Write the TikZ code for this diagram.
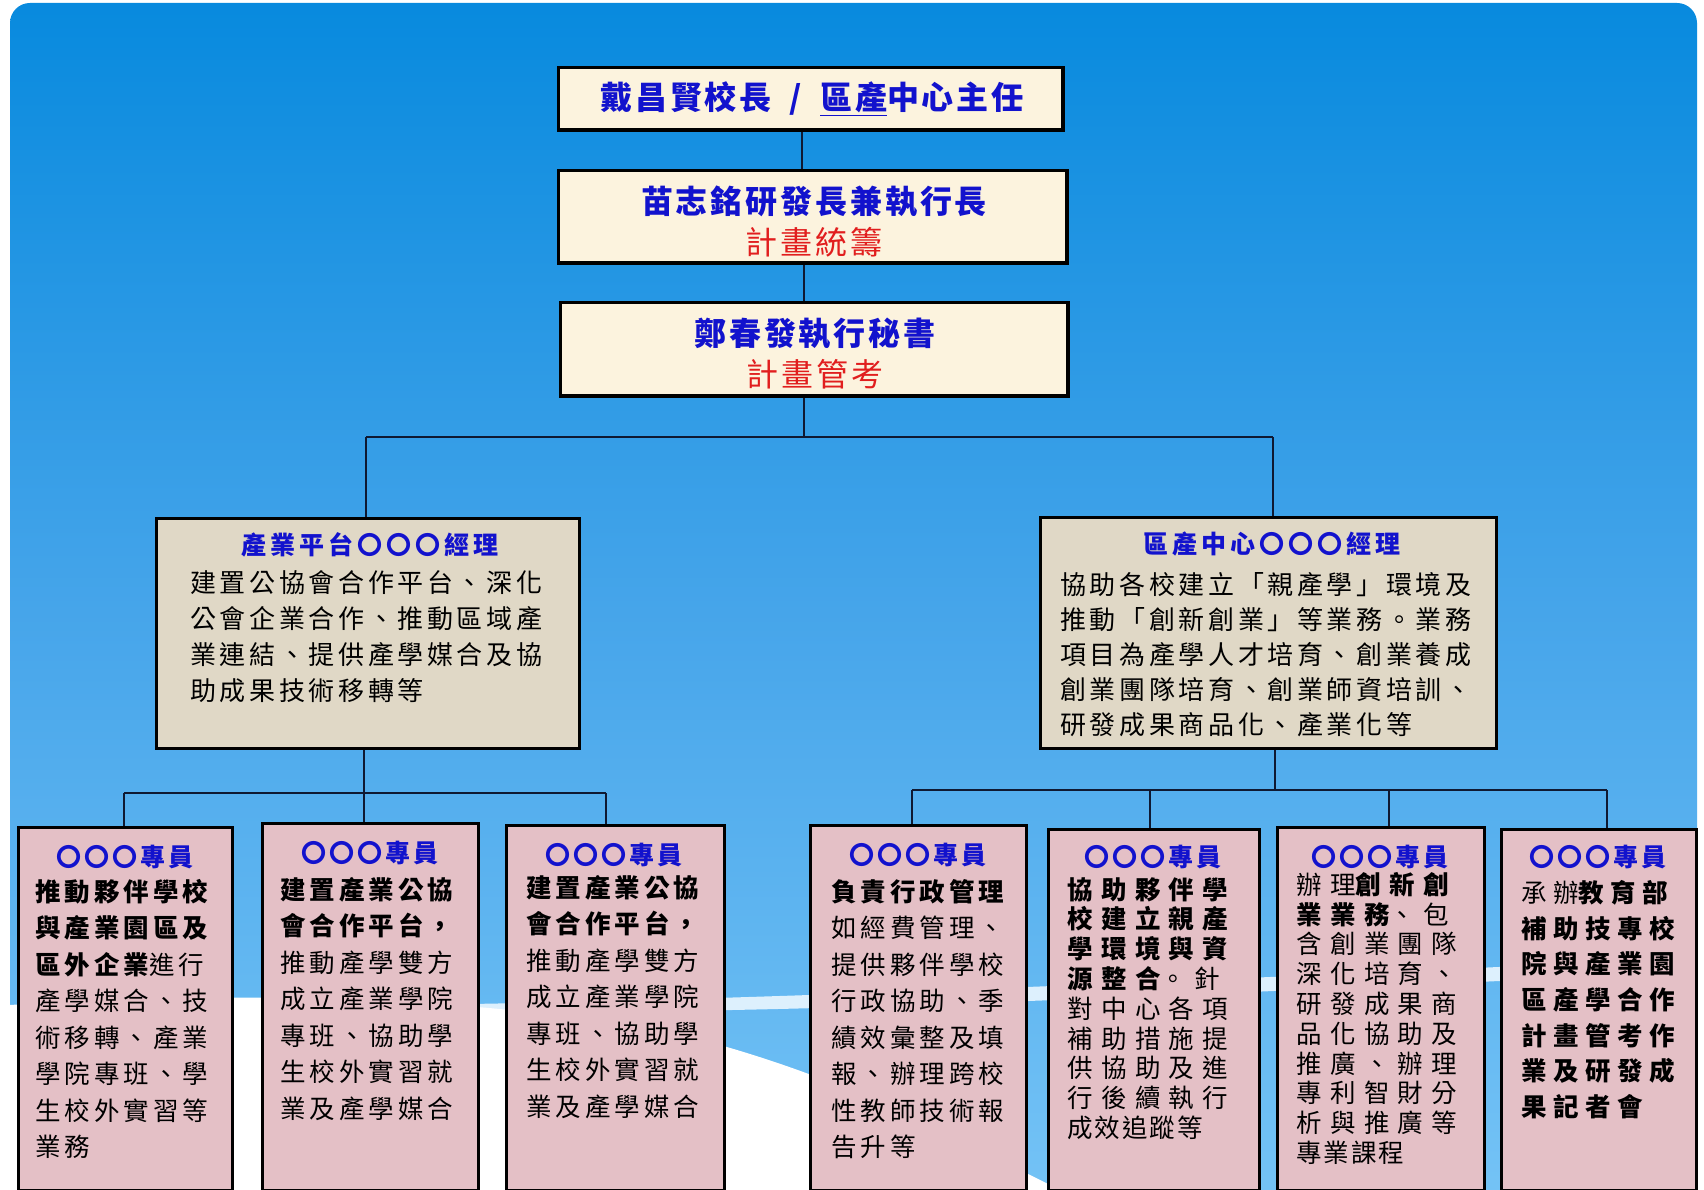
\documentclass[tikz,border=0pt]{standalone}
\usepackage{fontspec}
\setmainfont{Noto Sans CJK TC}
\usetikzlibrary{calc}
\definecolor{bgtop}{RGB}{8,138,222}
\definecolor{bgmid}{RGB}{70,165,234}
\definecolor{bgbot}{RGB}{118,196,246}
\definecolor{cream}{RGB}{252,243,222}
\definecolor{mgrfill}{RGB}{224,216,198}
\definecolor{pinkfill}{RGB}{228,192,198}
\definecolor{tblue}{RGB}{18,18,205}
\definecolor{tred}{RGB}{225,30,30}
\definecolor{linec}{RGB}{15,25,50}
\newcommand\myfTop{\fontsize{32}{41}\selectfont\bfseries\addfontfeature{LetterSpace=9}}
\newcommand\myfMgrT{\fontsize{25}{30}\selectfont\bfseries\addfontfeature{LetterSpace=16}}
\newcommand\myfMgrB{\fontsize{26}{36}\selectfont\addfontfeature{LetterSpace=14}}
\newcommand\myfMgrBR{\fontsize{26}{35}\selectfont\addfontfeature{LetterSpace=14}}
\newcommand\myfStaffT{\fontsize{25}{30}\selectfont\bfseries\addfontfeature{LetterSpace=12}}
\newcommand\myfBody{\fontsize{25.5}{36.5}\selectfont\addfontfeature{LetterSpace=15.5}}
\newcommand\myfBodyW{\fontsize{25.5}{29.8}\selectfont\addfontfeature{LetterSpace=33}}
\newcommand\myfBodyS{\fontsize{25.5}{35.7}\selectfont\addfontfeature{LetterSpace=25.5}}
\newcommand\myfTight{\addfontfeature{LetterSpace=8}}
\begin{document}
\begin{tikzpicture}[x=1pt,y=-1pt,
  topbox/.style={draw=black, line width=2.4pt, fill=cream, inner sep=0pt},
  mgrbox/.style={draw=black, line width=1.8pt, fill=mgrfill, inner sep=0pt},
  staffbox/.style={draw=black, line width=1.8pt, fill=pinkfill, inner sep=0pt},
  conn/.style={draw=linec, line width=2pt},
  ttop/.style={inner sep=0pt, align=center, text=tblue, font=\myfTop},
  tmgr/.style={inner sep=0pt, text=tblue, font=\myfMgrT},
  bmgr/.style={inner sep=0pt, align=left, text=black, font=\myfMgrB, anchor=north west},
  tstaff/.style={inner sep=0pt, text=tblue, font=\myfStaffT},
  bstaff/.style={inner sep=0pt, align=left, text=black, font=\myfBody, anchor=north west}]
\useasboundingbox (0,0) rectangle (1704,1190);
% background
\fill[white] (0,0) rectangle (1704,1190);
\shade[top color=bgtop, bottom color=bgbot, middle color=bgmid, rounded corners=20pt] (10,3) rectangle (1697,1220);
\fill[white!75!bgbot] (470,1004) .. controls (700,1000) and (1000,990) .. (1697,958) -- (1697,972) .. controls (1000,1004) and (700,1016) .. (470,1010) -- cycle;
\fill[white] (10,1005) .. controls (250,990) and (520,995) .. (720,1045) .. controls (860,1085) and (960,1140) .. (1060,1190) -- (10,1190) -- cycle;

% boxes (top)
\node[topbox, minimum width=503pt, minimum height=61pt, anchor=north west] (pres) at (558,67) {};
\node[topbox, minimum width=507pt, minimum height=91pt, anchor=north west] (ceo) at (558,170) {};
\node[topbox, minimum width=506pt, minimum height=92pt, anchor=north west] (sec) at (560,302) {};
\node[mgrbox, minimum width=422pt, minimum height=229pt, anchor=north west] (mgrL) at (156,518) {};
\node[mgrbox, minimum width=455pt, minimum height=230pt, anchor=north west] (mgrR) at (1040,517) {};
% staff boxes
\node[staffbox, minimum width=213pt, minimum height=362pt, anchor=north west] (b1) at (18,827) {};
\node[staffbox, minimum width=215pt, minimum height=366pt, anchor=north west] (b2) at (262,823) {};
\node[staffbox, minimum width=217pt, minimum height=364pt, anchor=north west] (b3) at (506,825) {};
\node[staffbox, minimum width=215pt, minimum height=364pt, anchor=north west] (b4) at (810,825) {};
\node[staffbox, minimum width=210pt, minimum height=360pt, anchor=north west] (b5) at (1048,829) {};
\node[staffbox, minimum width=206pt, minimum height=362pt, anchor=north west] (b6) at (1277,827) {};
\node[staffbox, minimum width=194pt, minimum height=360pt, anchor=north west] (b7) at (1501,829) {};

% connectors
\coordinate (v1) at ([xshift=-9pt]pres.south);
\coordinate (j0) at (804,437);
\coordinate (jL) at (366,437);
\coordinate (jR) at (1273,437);
\draw[conn] (v1) -- (v1 |- ceo.north);
\draw[conn] (ceo.south -| j0) -- (j0 |- sec.north);
\draw[conn] (sec.south -| j0) -- (j0);
\draw[conn] (jL) -- (jR);
\draw[conn] (jL) -- (jL |- mgrL.north);
\draw[conn] (jR) -- (jR |- mgrR.north);
\coordinate (lb) at (364,793);
\coordinate (l1) at (124,793);
\coordinate (l3) at (606,793);
\draw[conn] (mgrL.south -| lb) -- (lb);
\draw[conn] (l1) -- (l3);
\draw[conn] (l1) -- (l1 |- b1.north);
\draw[conn] (lb) -- (lb |- b2.north);
\draw[conn] (l3) -- (l3 |- b3.north);
\coordinate (rb) at (1275,790);
\coordinate (r1) at (912,790);
\coordinate (r2) at (1150,790);
\coordinate (r3) at (1389,790);
\coordinate (r4) at (1607,790);
\draw[conn] (mgrR.south -| rb) -- (rb);
\draw[conn] (r1) -- (r4);
\draw[conn] (r1) -- (r1 |- b4.north);
\draw[conn] (r2) -- (r2 |- b5.north);
\draw[conn] (r3) -- (r3 |- b6.north);
\draw[conn] (r4) -- (r4 |- b7.north);
% redraw box borders over connector ends
\foreach \n in {pres,ceo,sec}{\draw[line width=2.4pt] (\n.north west) rectangle (\n.south east);}
\foreach \n in {mgrL,mgrR,b1,b2,b3,b4,b5,b6,b7}{\draw[line width=1.8pt] (\n.north west) rectangle (\n.south east);}

% texts top
\node[ttop] (presT) at (812,99) {戴昌賢校長\hspace{18pt}/\hspace{18pt}\underline{區產}中心主任};
\node[ttop] (ceoT) at (814,222) {苗志銘研發長兼執行長\\{\mdseries\color{tred}計畫統籌}};
\node[ttop] (secT) at (815,354) {鄭春發執行秘書\\{\mdseries\color{tred}計畫管考}};
% managers
\node[tmgr] (mgrLT) at (370,545) {產業平台〇〇〇經理};
\node[bmgr] (mgrLB) at (190,570) {建置公協會合作平台、深化\\公會企業合作、推動區域產\\業連結、提供產學媒合及協\\助成果技術移轉等};
\node[tmgr] (mgrRT) at (1272,544) {區產中心〇〇〇經理};
\node[bmgr, font=\myfMgrBR] (mgrRB) at (1060,572) {協助各校建立「親產學」環境及\\推動「創新創業」等業務。業務\\項目為產學人才培育、創業養成\\創業團隊培育、創業師資培訓、\\研發成果商品化、產業化等};
% staff
\node[tstaff] (b1T) at (125,857) {〇〇〇專員};
\node[tstaff] (b2T) at (370,853) {〇〇〇專員};
\node[tstaff] (b3T) at (614,855) {〇〇〇專員};
\node[tstaff] (b4T) at (918,855) {〇〇〇專員};
\node[tstaff] (b5T) at (1153,857) {〇〇〇專員};
\node[tstaff] (b6T) at (1380,857) {〇〇〇專員};
\node[tstaff] (b7T) at (1598,857) {〇〇〇專員};
\node[bstaff] (b1B) at (35,879) {{\bfseries 推動夥伴學校}\\{\bfseries 與產業園區及}\\{\bfseries 區外企業}進行\\產學媒合、技\\術移轉、產業\\學院專班、學\\生校外實習等\\業務};
\node[bstaff] (b2B) at (280,877) {{\bfseries 建置產業公協}\\{\bfseries 會合作平台，}\\推動產學雙方\\成立產業學院\\專班、協助學\\生校外實習就\\業及產學媒合};
\node[bstaff] (b3B) at (526,875) {{\bfseries 建置產業公協}\\{\bfseries 會合作平台，}\\推動產學雙方\\成立產業學院\\專班、協助學\\生校外實習就\\業及產學媒合};
\node[bstaff] (b4B) at (831,879) {{\bfseries 負責行政管理}\\如經費管理、\\提供夥伴學校\\行政協助、季\\績效彙整及填\\報、辦理跨校\\性教師技術報\\告升等};
\node[bstaff, font=\myfBodyW] (b5B) at (1067,877) {{\bfseries 協助夥伴學}\\{\bfseries 校建立親產}\\{\bfseries 學環境與資}\\{\bfseries 源整合}。針\\對中心各項\\補助措施提\\供協助及進\\行後續執行\\{\myfTight 成效追蹤等}};
\node[bstaff, font=\myfBodyW] (b6B) at (1296,872) {辦理{\bfseries 創新創}\\{\bfseries 業業務}、包\\含創業團隊\\深化培育、\\研發成果商\\品化協助及\\推廣、辦理\\專利智財分\\析與推廣等\\{\myfTight 專業課程}};
\node[bstaff, font=\myfBodyS] (b7B) at (1521,880) {承辦{\bfseries 教育部}\\{\bfseries 補助技專校}\\{\bfseries 院與產業園}\\{\bfseries 區產學合作}\\{\bfseries 計畫管考作}\\{\bfseries 業及研發成}\\{\bfseries 果記者會}};
\end{tikzpicture}
\end{document}
